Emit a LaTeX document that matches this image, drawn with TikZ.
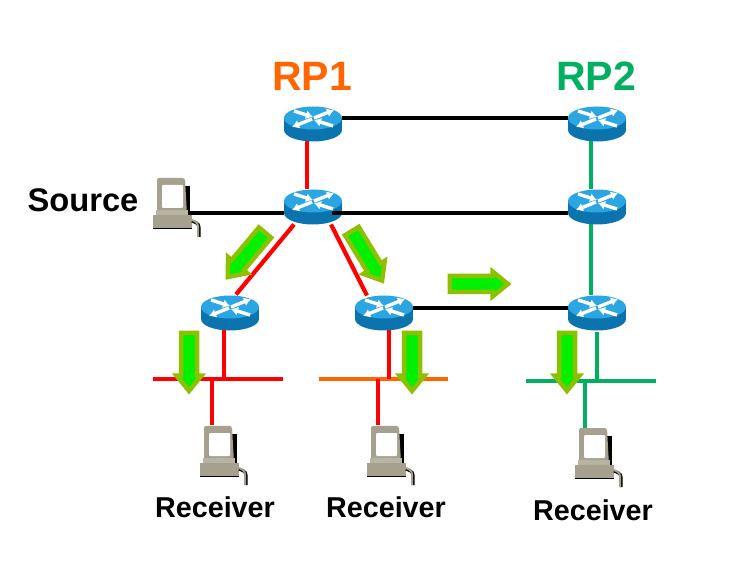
\documentclass[tikz,border=0pt]{standalone}
\usepackage{fontspec}
\setmainfont{Liberation Sans}
\usetikzlibrary{shapes.arrows,arrows.meta}
\definecolor{rpgreen}{HTML}{00B060}
\definecolor{rporange}{HTML}{FF6600}
\definecolor{ciscotop}{HTML}{2BA6E3}
\definecolor{ciscoside}{HTML}{0B74AE}
\definecolor{pcbody}{HTML}{A5A18E}
\definecolor{flowedge}{HTML}{8CC000}
\definecolor{flowfill}{HTML}{00F000}

\tikzset{
  router/.style={minimum width=58pt,minimum height=35pt,inner sep=0pt,outer sep=0pt},
  host/.style={minimum width=48pt,minimum height=59pt,inner sep=0pt,outer sep=0pt},
  rplabel/.style={font=\fontsize{41}{41}\selectfont\bfseries},
  hostlabel/.style={font=\fontsize{28.7}{28.7}\selectfont\bfseries},
  black link/.style={draw=black,line width=4pt},
  red link/.style={draw=red,line width=4.2pt},
  green link/.style={draw=rpgreen,line width=4.2pt},
  orange link/.style={draw=rporange,line width=4.2pt},
  flow/.style={single arrow,draw=flowedge,fill=flowfill,line width=4.5pt,inner sep=5.75pt,
               single arrow head extend=4.5pt,single arrow tip angle=78,minimum height=58pt},
  cross/.style={white,line width=3.4pt,-{Latex[length=7pt,width=9pt]}}
}

% router icon, drawn at a node
\newcommand{\routericon}[1]{
  \begin{scope}[shift={(#1.center)}]
    \fill[ciscoside] (0,6) ellipse (29 and 11.5);
    \fill[ciscoside] (-29,-6) rectangle (29,6);
    \fill[ciscotop] (0,-6) ellipse (29 and 11.5);
    \draw[cross] (-19,-13) -- (0,-7);
    \draw[cross] (1,-6) -- (21,-14);
    \draw[cross] (-1,-5) -- (-21,3);
    \draw[cross] (20,2) -- (1,-4);
  \end{scope}
}
% workstation icon, drawn at a node
\newcommand{\hosticon}[1]{
  \begin{scope}[shift={(#1.center)}]
    \fill[black] (6,-21) rectangle (13,9);
    \fill[pcbody,rounded corners=2pt] (-20,-29) -- (8,-29) -- (10,8) -- (-20,8) -- cycle;
    \fill[white,rounded corners=1pt] (-15,-22) rectangle (6,1);
    \fill[pcbody!80!white] (-21,3) rectangle (11,8);
    \fill[pcbody] (-24,8) rectangle (15,21);
    \draw[black,line width=1pt] (-24,21.5) -- (15,21.5);
    \draw[black,line width=3pt,rounded corners=3pt] (15,14) -- (22,17) -- (22,30);
    \draw[pcbody,line width=2pt,rounded corners=3pt] (15,13) -- (21,16) -- (21,30);
  \end{scope}
}

\begin{document}
\begin{tikzpicture}[x=1pt,y=-1pt]
\useasboundingbox (0,0) rectangle (756,580);

\node[rplabel,text=rporange] (RPa) at (312,76) {RP1};
\node[rplabel,text=rpgreen] (RPb) at (596,76) {RP2};
\node[hostlabel,font=\fontsize{32.7}{32.7}\selectfont\bfseries] (SRC) at (83,200) {Source};

\node[router] (A) at (313,124) {};
\node[router] (B) at (313,207) {};
\node[router] (C) at (230,313) {};
\node[router] (D) at (384,313) {};
\node[router] (E) at (597,124) {};
\node[router] (F) at (597,207) {};
\node[router] (G) at (597,313) {};

\node[host] (S) at (177,207) {};
\node[host] (H1) at (224,455) {};
\node[host] (H2) at (391,455) {};
\node[host] (H3) at (599,457) {};

\node[hostlabel] (R1) at (215,507) {Receiver};
\node[hostlabel] (R2) at (386,507) {Receiver};
\node[hostlabel] (R3) at (593,510) {Receiver};

% the three LAN segments
\coordinate (L1a) at (153,379);
\coordinate (L1b) at (283,379);
\coordinate (L2a) at (319,379);
\coordinate (L2b) at (448,379);
\coordinate (L3a) at (526,381);
\coordinate (L3b) at (656,381);

\foreach \r in {A,B,C,D,E,F,G} {\routericon{\r}}
\foreach \h in {S,H1,H2,H3} {\hosticon{\h}}

\draw[black link] ([yshift=6pt]A.east) -- ([yshift=6pt]E.west);
\draw[black link] ([xshift=-11pt,yshift=-6pt]S.east) -- ([yshift=-6pt]B.west);
\draw[black link] ([xshift=-10pt,yshift=-6pt]B.east) -- ([yshift=-6pt]F.west);
\draw[black link] ([yshift=5pt]D.east) -- ([yshift=5pt]G.west);

\draw[red link] ([xshift=-6pt]A.south) -- ([xshift=-6pt]B.north);
\draw[red link] ([xshift=-19pt]B.south) -- ([xshift=6pt,yshift=1pt]C.north);
\draw[red link] ([xshift=18pt]B.south) -- ([xshift=-17pt]D.north);

\draw[green link] ([xshift=-6pt]E.south) -- ([xshift=-6pt]F.north);
\draw[green link] ([xshift=-6pt]F.south) -- ([xshift=-6pt]G.north);

\draw[red link] (L1a) -- (L1b);
\draw[orange link] (L2a) -- (L2b);
\draw[green link] (L3a) -- (L3b);

\draw[red link] ([xshift=-6pt]C.south) -- ([xshift=-6pt]C.south |- L1a);
\draw[red link] ([xshift=-12pt]H1.north) -- ([xshift=-12pt]H1.north |- L1a);
\draw[red link] ([xshift=5pt]D.south) -- ([xshift=5pt]D.south |- L2a);
\draw[red link] ([xshift=-13pt]H2.north) -- ([xshift=-13pt]H2.north |- L2a);
\draw[green link] ([yshift=-2pt]G.south) -- (G.south |- L3a);
\draw[green link] ([xshift=-14pt]H3.north) -- ([xshift=-14pt]H3.north |- L3a);

\node[flow,rotate=-90] (f1) at (189,357) {};
\node[flow,rotate=-90] (f2) at (412,357) {};
\node[flow,rotate=-90] (f3) at (567,357) {};
\node[flow] (f4) at (474,284) {};
\node[flow,rotate=230] (f5) at (249.6,251) {};
\node[flow,rotate=-58.6] (f6) at (364.4,251.6) {};
\end{tikzpicture}
\end{document}
